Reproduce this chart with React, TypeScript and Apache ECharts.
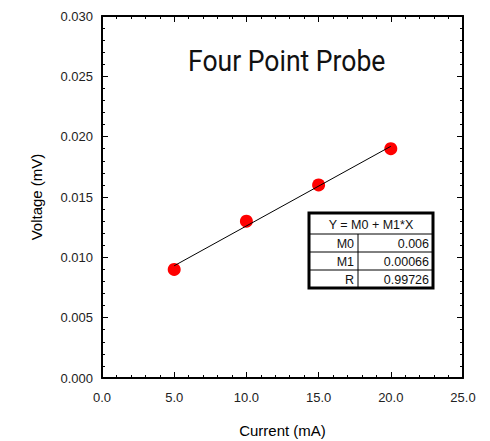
import React, { useEffect, useRef } from "react";
import * as echarts from "echarts";

const currents = [5, 10, 15, 20];
const voltages = [0.009, 0.013, 0.016, 0.019];
const fitM0 = 0.006;
const fitM1 = 0.00066;
const fitRange = [5, 20];
const tableRows = [
  ["M0", "0.006"],
  ["M1", "0.00066"],
  ["R", "0.99726"],
];

export default function App() {
  const ref = useRef<HTMLDivElement>(null);
  useEffect(() => {
    const chart = echarts.init(ref.current!, null, { renderer: "svg" });
    const fitData = fitRange.map((x) => [x, fitM0 + fitM1 * x]);
    const font = "'Liberation Sans', Arial, sans-serif";
    const axisCommon = {
      type: "value" as const,
      axisLine: { show: true, onZero: false, lineStyle: { color: "#000", width: 2 } },
      axisTick: { show: true, inside: true, length: 6, lineStyle: { color: "#000", width: 1 } },
      minorTick: { show: true, splitNumber: 5, length: 3, lineStyle: { color: "#000", width: 1 } },
      splitLine: { show: false },
    };
    const tableX = 309, tableY = 213, tableW = 124, headerH = 21, rowH = 18, divX = 49;
    const tFont = `12.5px ${font}`;
    const tableChildren: any[] = [
      { type: "rect", shape: { x: 0, y: 0, width: tableW, height: headerH + rowH * 3 }, style: { fill: "#fff", stroke: "#000", lineWidth: 3 } },
      { type: "text", x: tableW / 2, y: headerH / 2 + 1, style: { text: "Y = M0 + M1*X", fill: "#111", font: tFont, align: "center", verticalAlign: "middle" } },
      { type: "line", shape: { x1: divX, y1: headerH, x2: divX, y2: headerH + rowH * 3 }, style: { stroke: "#000", lineWidth: 1 } },
    ];
    tableRows.forEach((r, i) => {
      const y0 = headerH + rowH * i;
      tableChildren.push({ type: "line", shape: { x1: 0, y1: y0, x2: tableW, y2: y0 }, style: { stroke: "#000", lineWidth: 1 } });
      tableChildren.push({ type: "text", x: divX - 4, y: y0 + rowH / 2 + 1, style: { text: r[0], fill: "#111", font: tFont, align: "right", verticalAlign: "middle" } });
      tableChildren.push({ type: "text", x: tableW - 4, y: y0 + rowH / 2 + 1, style: { text: r[1], fill: "#111", font: tFont, align: "right", verticalAlign: "middle" } });
    });
    chart.setOption({
      animation: false,
      backgroundColor: "#fff",
      grid: { left: 102, top: 16, width: 361, height: 362, containLabel: false, outerBoundsMode: "none" },
      xAxis: [
        {
          ...axisCommon,
          position: "bottom",
          min: 0, max: 25, interval: 5,
          name: "Current (mA)",
          nameLocation: "middle",
          nameGap: 45,
          nameTextStyle: { fontFamily: font, fontSize: 15, color: "#000" },
          axisLabel: { fontFamily: font, fontSize: 13, color: "#222", margin: 13, formatter: (v: number) => v.toFixed(1) },
        },
        {
          ...axisCommon,
          position: "top",
          min: 0, max: 25, interval: 5,
          axisLabel: { show: false },
        },
      ],
      yAxis: [
        {
          ...axisCommon,
          position: "left",
          min: 0, max: 0.03, interval: 0.005,
          name: "Voltage (mV)",
          nameLocation: "middle",
          nameGap: 58,
          nameTextStyle: { fontFamily: font, fontSize: 15, color: "#000" },
          axisLabel: { fontFamily: font, fontSize: 13, color: "#222", margin: 9, formatter: (v: number) => v.toFixed(3) },
        },
        {
          ...axisCommon,
          position: "right",
          min: 0, max: 0.03, interval: 0.005,
          axisLabel: { show: false },
        },
      ],
      series: [
        {
          type: "line",
          data: fitData,
          symbol: "none",
          lineStyle: { color: "#000", width: 1 },
          silent: true,
        },
        {
          type: "scatter",
          data: currents.map((x, i) => [x, voltages[i]]),
          symbol: "circle",
          symbolSize: 13,
          itemStyle: { color: "#ff0000", opacity: 1 },
        },
      ],
      graphic: [
        {
          type: "text",
          x: 188,
          y: 61,
          scaleX: 0.885,
          style: { text: "Four Point Probe", fill: "#111", font: "30px Roboto, sans-serif", align: "left", verticalAlign: "middle" },
        },
        { type: "group", x: tableX, y: tableY, children: tableChildren },
      ],
    });
    return () => chart.dispose();
  }, []);
  return <div ref={ref} style={{ position: "absolute", left: 0, top: 0, width: 490, height: 441 }} />;
}
